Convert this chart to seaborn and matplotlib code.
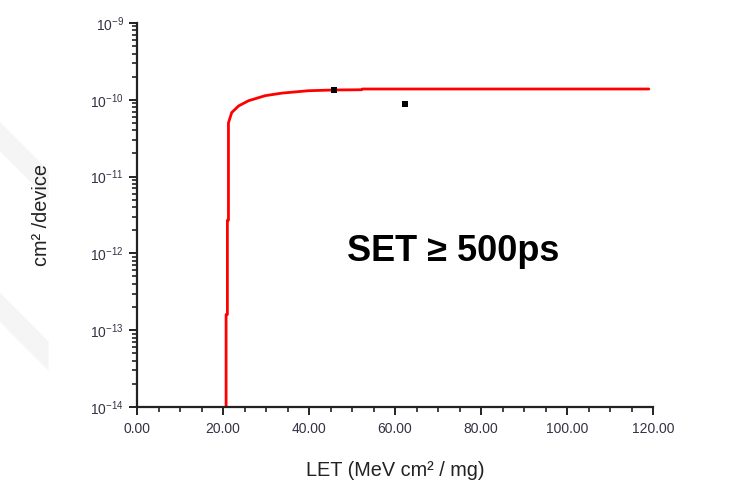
import numpy as np
import pandas as pd
import matplotlib
matplotlib.use("Agg")
import matplotlib.pyplot as plt
from matplotlib.patches import Polygon
from matplotlib.ticker import LogLocator, MultipleLocator, FormatStrFormatter
import seaborn as sns

# fitted cross-section curve
fit_let = [20.7, 20.7, 21.0, 21.0, 21.25, 21.25, 22.0, 23.6, 25.9, 29.8, 33.7, 39.8, 45.8, 52.2, 52.4, 80.0, 119.0]
fit_sigma = [1e-14, 1.6e-13, 1.6e-13, 2.7e-12, 2.7e-12, 5.0e-11, 6.8e-11, 8.3e-11, 9.7e-11,
             1.13e-10, 1.22e-10, 1.31e-10, 1.34e-10, 1.35e-10, 1.38e-10, 1.38e-10, 1.38e-10]

# measured points
meas_let = [45.8, 62.4]
meas_sigma = [1.35e-10, 8.9e-11]

label_text = "SET \u2265 500ps"

fit_df = pd.DataFrame({"LET": fit_let, "sigma": fit_sigma})
meas_df = pd.DataFrame({"LET": meas_let, "sigma": meas_sigma})

sns.set_style("ticks")
plt.rcParams["font.family"] = ["Liberation Sans", "DejaVu Sans"]
plt.rcParams["mathtext.fontset"] = "custom"
plt.rcParams["mathtext.rm"] = "Liberation Sans"
plt.rcParams["mathtext.it"] = "Liberation Sans"

fig = plt.figure(figsize=(7.49, 4.88), dpi=100)
fig.patch.set_facecolor("white")

# faint slide decoration on the left
for y0 in [0.55, 0.2]:
    fig.patches.append(Polygon([[0.0, y0 + 0.2], [0.065, y0 + 0.1], [0.065, y0 + 0.04], [0.0, y0 + 0.14]],
                               closed=True, transform=fig.transFigure, facecolor="#f5f5f5",
                               edgecolor="none", zorder=-10))

ax = fig.add_axes([0.183, 0.166, 0.689, 0.787])
ax.set_facecolor("none")

sns.lineplot(data=fit_df, x="LET", y="sigma", sort=False, estimator=None, color="#ff0000",
             linewidth=2.0, ax=ax)
sns.scatterplot(data=meas_df, x="LET", y="sigma", marker="s", color="black", s=22,
                edgecolor="black", linewidth=0, ax=ax, zorder=5)

ax.set_yscale("log")
ax.set_xlim(0, 120)
ax.set_ylim(1e-14, 1e-9)
ax.xaxis.set_major_locator(MultipleLocator(20))
ax.xaxis.set_minor_locator(MultipleLocator(5))
ax.xaxis.set_major_formatter(FormatStrFormatter("%.2f"))
ax.yaxis.set_major_locator(LogLocator(base=10, numticks=10))
ax.yaxis.set_minor_locator(LogLocator(base=10, subs=np.arange(2, 10), numticks=20))

for side in ["top", "right"]:
    ax.spines[side].set_visible(False)
for side in ["left", "bottom"]:
    ax.spines[side].set_linewidth(1.6)
    ax.spines[side].set_color("#222222")

ax.tick_params(which="major", direction="out", length=6, width=1.4, colors="#222222",
               labelsize=10, labelcolor="#333344")
ax.tick_params(which="minor", direction="out", length=3.5, width=1.2, colors="#222222")
ax.tick_params(axis="x", which="major", pad=5)

ax.set_xlabel("LET (MeV cm\u00b2 / mg)", fontsize=14.3, color="#222222", labelpad=18)
ax.set_ylabel("cm\u00b2 /device", fontsize=14.3, color="#222222", labelpad=28)

ax.text(0.612, 0.405, label_text, transform=ax.transAxes, fontsize=26, fontweight="bold",
        color="black", ha="center", va="center")

fig.savefig("out.png", dpi=100, facecolor="white")
